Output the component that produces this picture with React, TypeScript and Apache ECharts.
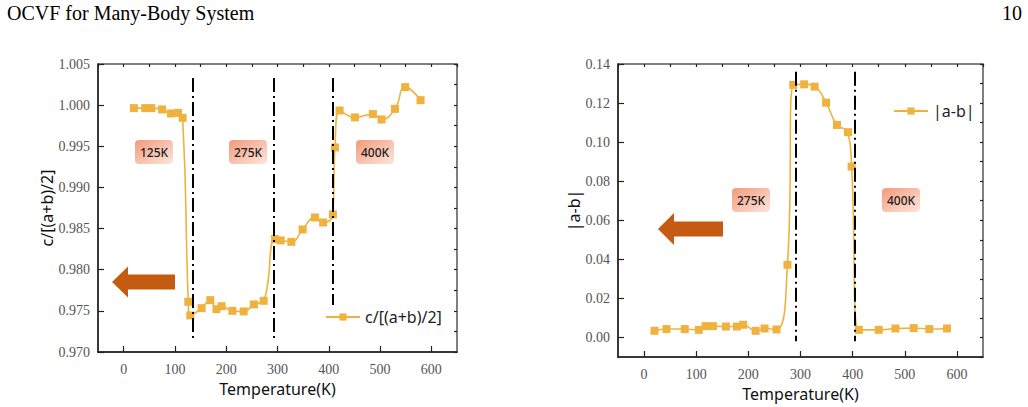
import React, { useEffect, useRef } from "react";
import * as echarts from "echarts";

// ---------- data ----------
const leftTemps = [20, 42, 54, 75, 92, 106, 115, 126, 130, 152, 169, 181, 191, 212, 234, 254, 273, 295, 306, 327, 349, 373, 389, 408, 412, 421, 451, 486, 503, 529, 549, 579];
const leftRatio = [0.99964, 0.99964, 0.99964, 0.99948, 0.99899, 0.99906, 0.99846, 0.9761, 0.97444, 0.97533, 0.9763, 0.97521, 0.97557, 0.975, 0.97493, 0.97578, 0.97622, 0.98372, 0.98356, 0.98339, 0.98489, 0.98635, 0.98574, 0.98672, 0.99486, 0.99935, 0.99851, 0.99891, 0.99826, 0.99955, 1.00219, 1.00061];

const rightTemps = [20, 43, 78, 105, 118, 132, 157, 178, 190, 214, 231, 254, 275, 286, 307, 327, 349, 370, 391, 398, 412, 450, 482, 517, 547, 581];
const rightDiff = [0.0034, 0.0043, 0.0043, 0.0039, 0.0058, 0.0058, 0.0056, 0.0056, 0.0065, 0.0034, 0.0046, 0.0041, 0.0372, 0.1293, 0.1296, 0.1284, 0.1202, 0.1088, 0.1051, 0.0875, 0.0039, 0.0039, 0.0046, 0.0048, 0.0043, 0.0046];

const leftTransitions = [135, 292, 408];
const leftTransitionTop = [1.0033, 1.0033, 1.0033];
const leftTransitionBottom = [0.9717, 0.9717, 0.9757];
const rightTransitions = [290, 404];
const rightTransitionTop = [0.136, 0.136];
const rightTransitionBottom = [-0.002, -0.002];

const xMajorTicks = [0, 100, 200, 300, 400, 500, 600];
const rightYTicks = [0, 0.02, 0.04, 0.06, 0.08, 0.1, 0.12, 0.14];

const leftLabels = ["125K", "275K", "400K"];
const rightLabels = ["275K", "400K"];

const SERIES_COLOR = "#F0B23F";
const ARROW_COLOR = "#C55A11";
const AXIS_COLOR = "#222";
const LABEL_FONT = "Liberation Serif";
const SANS = "Noto Sans";

const isMajor = (v: number, list: number[]) => list.some((m) => Math.abs(m - v) < 1e-6);

function majorX(gridIndex: number) {
  return {
    type: "value",
    gridIndex,
    min: -50,
    max: 650,
    interval: 50,
    splitLine: { show: false },
    axisLine: { show: true, onZero: false, lineStyle: { color: AXIS_COLOR, width: 1.5 } },
    axisTick: { show: true, inside: true, length: 6, customValues: xMajorTicks, lineStyle: { color: AXIS_COLOR, width: 1.2 } },
    axisLabel: {
      formatter: (v: number) => (isMajor(v, xMajorTicks) ? String(Math.round(v)) : ""),
      color: "#555",
      fontFamily: LABEL_FONT,
      fontSize: 14,
      margin: 10,
      showMinLabel: true,
      showMaxLabel: true,
    },
    name: "Temperature(K)",
    nameLocation: "middle",
    nameGap: 25,
    nameTextStyle: { fontFamily: SANS, fontSize: 16, color: "#111" },
  };
}
function minorX(gridIndex: number) {
  return {
    type: "value",
    gridIndex,
    min: -50,
    max: 650,
    interval: 50,
    splitLine: { show: false },
    axisLine: { show: false, onZero: false },
    axisTick: { show: true, inside: true, length: 3, lineStyle: { color: AXIS_COLOR, width: 1.2 } },
    axisLabel: { show: false },
  };
}

function makeBox(cx: number, cy: number, text: string) {
  return {
    type: "group",
    x: cx - 19,
    y: cy - 12,
    children: [
      {
        type: "rect",
        shape: { x: 0, y: 0, width: 38, height: 24, r: 4 },
        style: {
          fill: new echarts.graphic.LinearGradient(0, 0, 1, 1, [
            { offset: 0, color: "#F39A7C" },
            { offset: 1, color: "#FDE6DC" },
          ]),
        },
      },
      {
        type: "text",
        x: 19,
        y: 12,
        style: { text, fontFamily: SANS, fontSize: 12, fontWeight: 500, fill: "#222", align: "center", verticalAlign: "middle" },
      },
    ],
  };
}

function arrow(tipX: number, tipY: number, headBase: number, headHalf: number, shaftEnd: number, shaftHalf: number) {
  return {
    type: "polygon",
    shape: {
      points: [
        [tipX, tipY],
        [headBase, tipY - headHalf],
        [headBase, tipY - shaftHalf],
        [shaftEnd, tipY - shaftHalf],
        [shaftEnd, tipY + shaftHalf],
        [headBase, tipY + shaftHalf],
        [headBase, tipY + headHalf],
      ],
    },
    style: { fill: ARROW_COLOR },
  };
}

export default function App() {
  const ref = useRef<HTMLDivElement>(null);
  useEffect(() => {
    if (!ref.current) return;
    const chart = echarts.init(ref.current, undefined, { renderer: "svg" });
    const markLineStyle = { color: "#000", width: 2, type: [14, 4, 2, 4] };
    const option: any = {
      animation: false,
      backgroundColor: "#fff",
      grid: [
        { left: 98, top: 64, width: 359, height: 288, show: true, borderColor: "#555", borderWidth: 1.5 },
        { left: 618, top: 64, width: 365, height: 293, show: true, borderColor: "#555", borderWidth: 1.5 },
      ],
      xAxis: [majorX(0), minorX(0), majorX(1), minorX(1)],
      yAxis: [
        {
          type: "value",
          gridIndex: 0,
          min: 0.97,
          max: 1.005,
          interval: 0.005,
          splitLine: { show: false },
          axisLine: { show: true, onZero: false, lineStyle: { color: AXIS_COLOR, width: 1.5 } },
          axisTick: { show: true, inside: true, length: 6, lineStyle: { color: AXIS_COLOR, width: 1.2 } },
          axisLabel: { formatter: (v: number) => v.toFixed(3), color: "#555", fontFamily: LABEL_FONT, fontSize: 14, margin: 8 },
          name: "c/[(a+b)/2]",
          nameLocation: "middle",
          nameGap: 40,
          nameTextStyle: { fontFamily: SANS, fontSize: 16, color: "#111" },
        },
        {
          type: "value",
          gridIndex: 0,
          min: 0.97,
          max: 1.005,
          interval: 0.0025,
          splitLine: { show: false },
          axisLine: { show: false, onZero: false },
          axisTick: { show: true, inside: true, length: 3, lineStyle: { color: AXIS_COLOR, width: 1.2 } },
          axisLabel: { show: false },
        },
        {
          type: "value",
          gridIndex: 1,
          min: -0.01,
          max: 0.14,
          interval: 0.01,
          splitLine: { show: false },
          axisLine: { show: true, onZero: false, lineStyle: { color: AXIS_COLOR, width: 1.5 } },
          axisTick: { show: true, inside: true, length: 6, customValues: rightYTicks, lineStyle: { color: AXIS_COLOR, width: 1.2 } },
          axisLabel: {
            formatter: (v: number) => (isMajor(v, rightYTicks) ? v.toFixed(2) : ""),
            color: "#555",
            fontFamily: LABEL_FONT,
            fontSize: 14,
            margin: 8,
          },
          name: "|a-b|",
          nameLocation: "middle",
          nameGap: 36,
          nameTextStyle: { fontFamily: SANS, fontSize: 16, color: "#111" },
        },
        {
          type: "value",
          gridIndex: 1,
          min: -0.01,
          max: 0.14,
          interval: 0.01,
          splitLine: { show: false },
          axisLine: { show: false, onZero: false },
          axisTick: { show: true, inside: true, length: 3, lineStyle: { color: AXIS_COLOR, width: 1.2 } },
          axisLabel: { show: false },
        },
      ],
      legend: [
        {
          data: ["c/[(a+b)/2]"],
          left: 320,
          top: 304,
          itemWidth: 34,
          itemHeight: 9,
          textStyle: { fontFamily: SANS, fontSize: 16, color: "#222" },
        },
        {
          data: ["|a-b|"],
          left: 888,
          top: 98,
          itemWidth: 34,
          itemHeight: 9,
          textStyle: { fontFamily: SANS, fontSize: 16, color: "#222" },
        },
      ],
      series: [
        {
          name: "c/[(a+b)/2]",
          type: "line",
          xAxisIndex: 0,
          yAxisIndex: 0,
          data: leftTemps.map((t, i) => [t, leftRatio[i]]),
          smooth: 0.5,
          symbol: "rect",
          symbolSize: 8,
          itemStyle: { color: SERIES_COLOR },
          lineStyle: { color: SERIES_COLOR, width: 1.6 },
          markLine: {
            silent: true,
            symbol: ["none", "none"],
            label: { show: false },
            lineStyle: markLineStyle,
            data: leftTransitions.map((t, i) => [
              { coord: [t, leftTransitionTop[i]] },
              { coord: [t, leftTransitionBottom[i]] },
            ]),
          },
        },
        {
          name: "|a-b|",
          type: "line",
          xAxisIndex: 2,
          yAxisIndex: 2,
          data: rightTemps.map((t, i) => [t, rightDiff[i]]),
          smooth: 0.5,
          symbol: "rect",
          symbolSize: 8,
          itemStyle: { color: SERIES_COLOR },
          lineStyle: { color: SERIES_COLOR, width: 1.6 },
          markLine: {
            silent: true,
            symbol: ["none", "none"],
            label: { show: false },
            lineStyle: markLineStyle,
            data: rightTransitions.map((t, i) => [
              { coord: [t, rightTransitionTop[i]] },
              { coord: [t, rightTransitionBottom[i]] },
            ]),
          },
        },
      ],
      graphic: [
        {
          type: "text",
          left: 7,
          top: 3,
          style: { text: "OCVF for Many-Body System", font: "20px Liberation Serif", fill: "#000" },
        },
        {
          type: "text",
          right: 6,
          top: 3,
          style: { text: "10", font: "20px Liberation Serif", fill: "#000" },
        },
        makeBox(154, 152, leftLabels[0]),
        makeBox(248, 152, leftLabels[1]),
        makeBox(375, 152, leftLabels[2]),
        makeBox(751, 200, rightLabels[0]),
        makeBox(901, 200, rightLabels[1]),
        arrow(112, 282, 128, 15.5, 175, 7.5),
        arrow(658, 229, 674, 16, 723, 7.5),
      ],
    };
    chart.setOption(option);
    return () => chart.dispose();
  }, []);
  return (
    <div
      ref={ref}
      style={{ position: "fixed", left: 0, top: 0, width: 1028, height: 407, background: "#fff" }}
    />
  );
}
